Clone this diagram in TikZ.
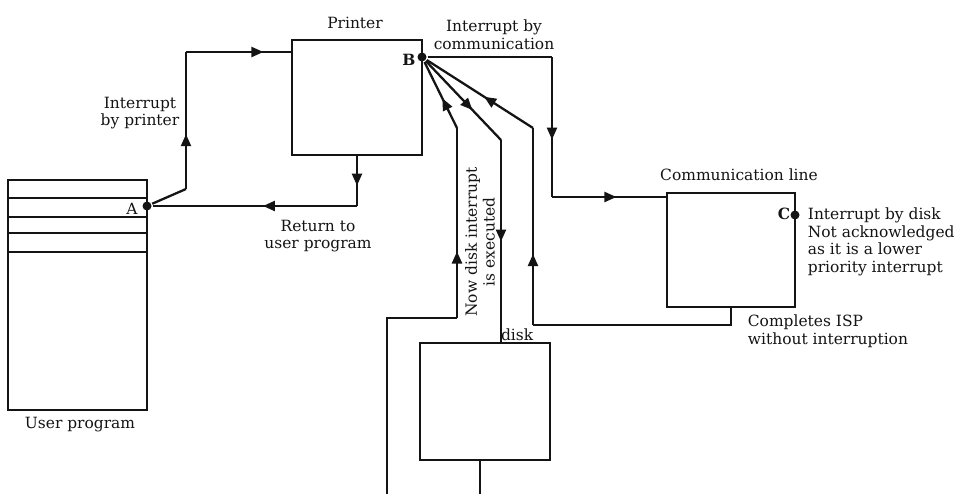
\documentclass[tikz,border=0pt]{standalone}
\usepackage{fontspec}
\setmainfont{DejaVu Serif}
\usepackage{xcolor}
\usepackage{tikz}
\usetikzlibrary{arrows.meta, decorations.markings, calc}
\definecolor{cink}{RGB}{20, 20, 20}

\begin{document}
\begin{tikzpicture}[x=0.2mm, y=-0.2mm, font=\fontsize{8.8}{10}\selectfont, line width=1.3pt, cink,
  box/.style={draw, rectangle, inner sep=0pt, outer sep=0pt, anchor=north west},
  dot/.style={circle, fill, inner sep=0pt, minimum size=1.8mm},
  arr/.style={postaction={decorate}, decoration={markings, mark=at position #1 with {\arrow{Triangle[length=2.4mm, width=2mm]}}}},
  lbl/.style={inner sep=1pt, align=center}]
  \useasboundingbox (0,0) rectangle (972,494);

  \node[box, minimum width=27.8mm, minimum height=46mm] (user) at (8,180) {};
  \foreach \yy in {198,217,233,252}
    \draw (user.west |- 0,\yy) -- (user.east |- 0,\yy);
  \node[box, minimum width=26mm, minimum height=23mm] (printer) at (292,40) {};
  \node[box, minimum width=25.6mm, minimum height=22.8mm] (comm) at (667,193) {};
  \node[box, minimum width=26mm, minimum height=23.4mm] (disk) at (420,343) {};

  \node[dot] (A) at (user.east |- 0,206) {};
  \node[dot] (B) at (printer.east |- 0,57) {};
  \node[dot] (C) at (comm.east |- 0,215) {};
  \node[lbl] (Alab) at (132,209) {A};
  \node[lbl] (Blab) at (409,60) {\textbf{B}};
  \node[lbl] (Clab) at (784,214) {\textbf{C}};

  \coordinate (p1) at (186,189);
  \coordinate (p2) at (186,52);
  \draw (A) -- (p1);
  \draw[arr=0.40] (p1) -- (p2);
  \draw[arr=0.73] (p2) -- (printer.west |- p2);

  \coordinate (r1) at (printer.south |- A);
  \draw[arr=0.6] (printer.south) -- (r1);
  \draw[arr=0.46] (r1) -- (A);

  \coordinate (c1) at (552,57);
  \coordinate (c2) at (552,197);
  \draw (B) -- (c1);
  \draw[arr=0.59] (c1) -- (c2);
  \draw[arr=0.56] (c2) -- (comm.west |- c2);

  \coordinate (n0) at (387,494);
  \coordinate (n1) at (387,318);
  \coordinate (n2) at (457,318);
  \coordinate (n3) at (457,128);
  \draw (n0) -- (n1) -- (n2);
  \draw[arr=0.35] (n2) -- (n3);
  \draw[arr=0.45] (n3) -- (B);

  \coordinate (d1) at (501,140);
  \coordinate (d2) at (480,494);
  \draw[arr=0.62] (B) -- (d1);
  \draw[arr=0.5] (d1) -- (d1 |- disk.north);
  \draw (disk.south -| d2) -- (d2);

  \coordinate (e1) at (comm.south |- 0,325);
  \coordinate (e2) at (533,325);
  \coordinate (e3) at (533,128);
  \draw (comm.south) -- (e1) -- (e2);
  \draw[arr=0.36] (e2) -- (e3);
  \draw[arr=0.46] (e3) -- (B);

  \node[lbl] (userlbl) at (80,425) {User program};
  \node[lbl] (prtlbl) at (355,23) {Printer};
  \node[lbl] (irqprt) at (140,113) {Interrupt\\by printer};
  \node[lbl] (retlbl) at (318,236) {Return to\\user program};
  \node[lbl] (irqcom) at (494,35) {Interrupt by\\communication};
  \node[lbl] (comlbl) at (739,175) {Communication line};
  \node[lbl, align=left, anchor=west] (disknote) at (805,242) {Interrupt by disk\\Not acknowledged\\as it is a lower\\priority interrupt};
  \node[lbl, align=left, anchor=west] (isplbl) at (745,331) {Completes ISP\\without interruption};
  \node[lbl, rotate=90] (execlbl) at (480,242) {Now disk interrupt\\is executed};
  \node[lbl, anchor=south west, inner sep=0.5pt] (disklbl) at (499,343) {disk};
\end{tikzpicture}
\end{document}
